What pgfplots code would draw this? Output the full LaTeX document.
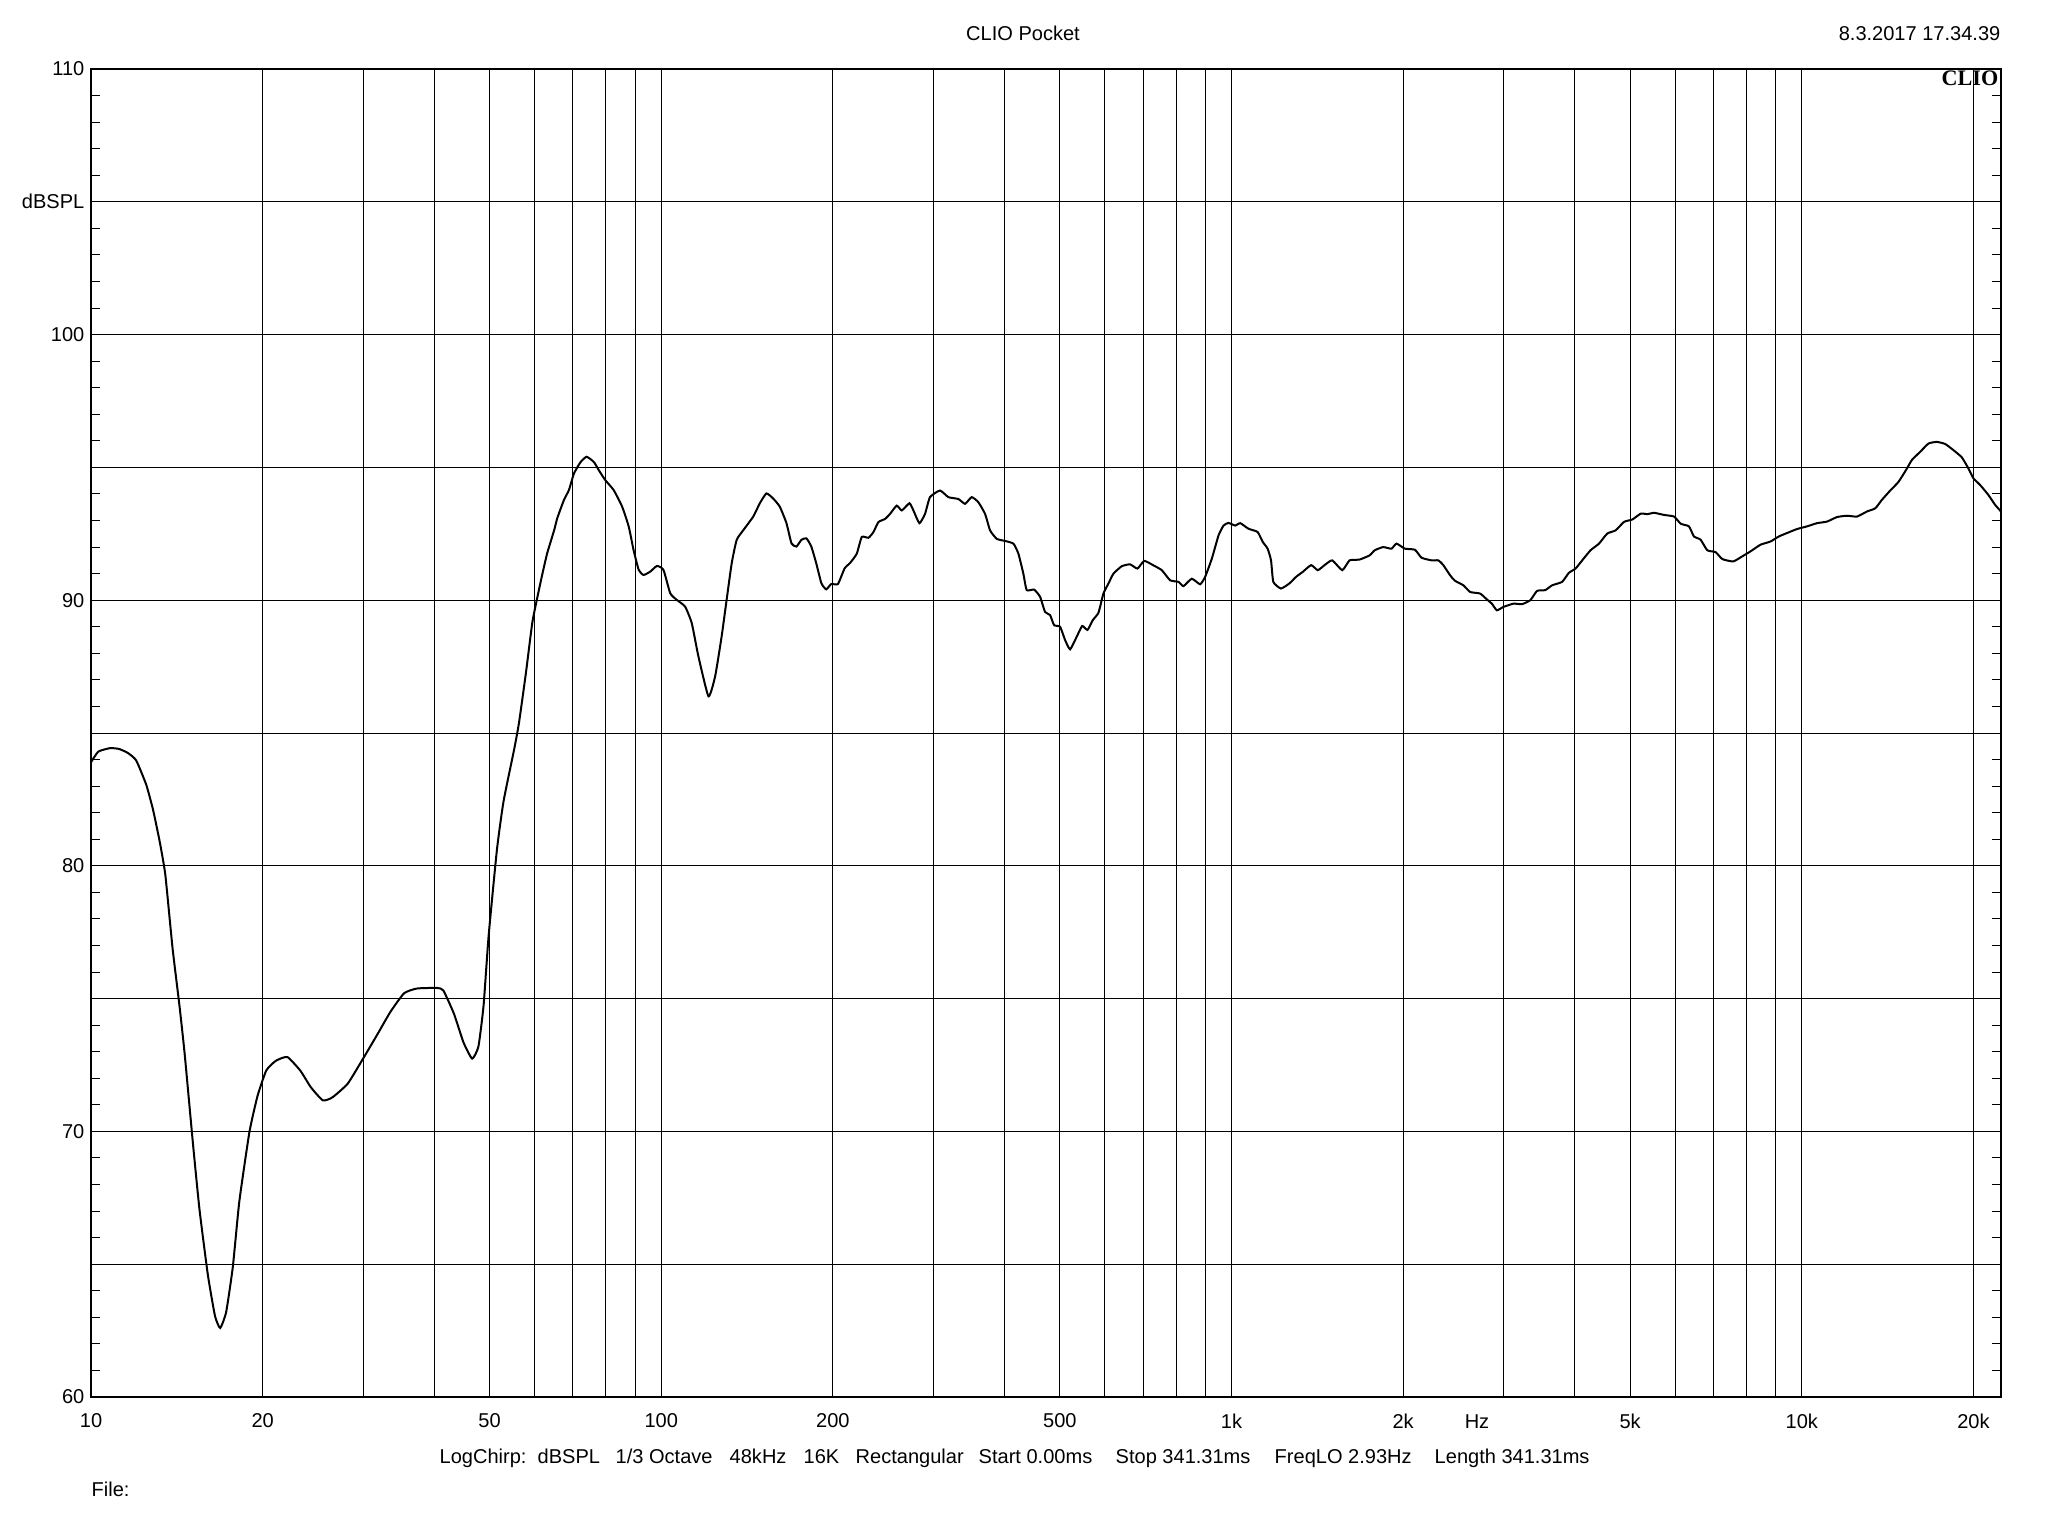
\documentclass[border=0pt]{standalone}
\usepackage{fontspec}
\setmainfont{Liberation Sans}
\newfontfamily\logofont{Liberation Serif}
\usepackage{pgfplots}
\pgfplotsset{compat=1.18}
\pgfplotstableread{
f db
10 83.9
10.3 84.3
10.8 84.43
11.2 84.4
11.6 84.25
12.0 83.97
12.5 83.05
12.85 82.1
13.2 80.9
13.5 79.66
13.9 76.9
14.3 74.7
14.6 72.9
15.1 69.5
15.5 67.05
16.03 64.6
16.5 63.05
16.85 62.6
17.26 63.2
17.73 64.9
18.2 67.35
18.96 69.97
19.6 71.35
20.3 72.3
21.1 72.66
22.1 72.8
23.3 72.28
24.3 71.66
25.5 71.17
26.5 71.28
28.2 71.8
30 72.74
31.8 73.66
33.5 74.5
35.4 75.2
37.3 75.38
40.5 75.4
41.5 75.3
43.3 74.43
45.0 73.35
46.6 72.74
47.8 73.2
48.8 74.74
49.8 77.35
51.5 80.6
52.9 82.43
55.2 84.37
56.3 85.38
57.9 87.26
59.4 89.14
60.5 90.01
61.9 91.0
63.1 91.77
64.9 92.64
65.7 93.08
67.5 93.77
68.9 94.15
70.3 94.77
72.2 95.2
74.0 95.4
76.2 95.2
77.7 94.9
79.8 94.52
82.5 94.15
85.4 93.52
87.7 92.77
89.4 91.9
91.3 91.14
93.1 90.95
95.7 91.08
98.3 91.29
100.9 91.14
103.7 90.26
106.5 90.01
110.1 89.76
113.1 89.14
116.2 87.88
121.0 86.38
124.3 87.13
127.6 88.63
130.2 90.01
132.9 91.39
135.6 92.27
139.3 92.64
145.0 93.15
148.9 93.65
152.9 94.02
157.1 93.83
161.4 93.52
165.8 92.9
169.2 92.14
172.6 92.02
176.1 92.27
179.7 92.33
183.3 92.02
187.0 91.39
190.9 90.64
194.7 90.41
198.7 90.61
204.1 90.61
209.7 91.2
214.3 91.4
220.2 91.75
224.7 92.38
230.8 92.35
235.5 92.56
240.3 92.94
246.9 93.06
251.9 93.25
258.8 93.56
264.1 93.38
272.4 93.65
276.8 93.38
283.6 92.9
290.1 93.25
296.0 93.88
308.2 94.13
318.8 93.88
331.9 93.81
341.0 93.63
350.3 93.88
359.8 93.69
369.7 93.25
377.3 92.63
387.6 92.31
400.8 92.23
414.5 92.13
423.0 91.75
431.5 91.0
437.4 90.38
450.6 90.4
461.6 90.13
471.0 89.56
480.7 89.44
488.5 89.06
500.5 89.0
510.7 88.5
521.2 88.15
535.4 88.63
547.2 89.03
559.0 88.88
571.2 89.25
584.4 89.53
596.3 90.25
608.5 90.63
620.9 91.0
642.1 91.28
664.1 91.35
684.1 91.19
702.9 91.48
729.9 91.31
754.8 91.13
780.6 90.75
807.2 90.69
823.7 90.53
851.8 90.81
881.0 90.6
899.0 90.88
923.5 91.56
949.0 92.44
968.3 92.81
987.9 92.91
1015 92.81
1036 92.9
1071 92.69
1111 92.57
1134 92.2
1157 91.94
1173 91.5
1184 90.69
1221 90.44
1263 90.63
1298 90.88
1334 91.07
1379 91.32
1417 91.13
1456 91.32
1502 91.5
1564 91.13
1611 91.5
1677 91.53
1747 91.69
1783 91.88
1845 92.0
1908 91.94
1947 92.13
2014 91.94
2097 91.9
2154 91.6
2244 91.5
2305 91.5
2352 91.32
2417 90.94
2466 90.73
2551 90.56
2621 90.31
2729 90.25
2804 90.03
2861 89.87
2920 89.62
3000 89.75
3124 89.87
3231 89.85
3342 90.0
3434 90.35
3551 90.38
3649 90.56
3800 90.69
3905 91.03
4011 91.19
4121 91.5
4262 91.88
4410 92.13
4560 92.51
4717 92.63
4880 92.95
5047 93.04
5220 93.26
5362 93.24
5509 93.29
5735 93.21
5970 93.15
6134 92.88
6341 92.78
6471 92.4
6646 92.28
6829 91.88
7063 91.81
7255 91.55
7583 91.46
7864 91.65
8133 91.84
8467 92.09
8816 92.21
9116 92.4
9426 92.53
9813 92.68
10216 92.78
10636 92.9
11073 92.96
11529 93.13
12002 93.18
12499 93.15
13013 93.34
13458 93.46
13824 93.78
14296 94.13
14786 94.46
15292 94.96
15603 95.28
16137 95.59
16689 95.9
17259 95.96
17850 95.88
18450 95.65
19083 95.38
19606 94.96
20000 94.59
20545 94.34
21250 93.96
21830 93.59
22360 93.34
}\curve
\begin{document}
\begin{tikzpicture}[x=1mm,y=1mm]
\fontsize{5.7pt}{6.8pt}\selectfont
\useasboundingbox (0,0) rectangle (204.8,153.6);
\begin{axis}[
  at={(9.1mm,13.9mm)}, anchor=south west,
  scale only axis, width=191mm, height=132.8mm,
  xmode=log, xmin=10, xmax=22360, ymin=60, ymax=110,
  xtick={10,20,50,100,200,500,1000,2000,5000,10000,20000},
  xticklabels={10,20,50,100,200,500,1k,2k,5k,10k,20k},
  minor xtick={30,40,60,70,80,90,300,400,600,700,800,900,3000,4000,6000,7000,8000,9000},
  xmajorgrids, xminorgrids,
  ytick={60,65,...,110},
  yticklabels={60,,70,,80,,90,,100,dBSPL,110},
  minor ytick={61,62,...,109},
  ymajorgrids,
  major grid style={black, line width=0.1mm},
  minor grid style={black, line width=0.1mm},
  x tick style={draw=none},
  y tick style={black, line width=0.1mm},
  tick align=inside,
  major tick length=0.9mm, minor tick length=0.9mm,
  axis line style={black, line width=0.2mm},
  tick label style={font=\fontsize{5.7pt}{6.8pt}\selectfont},
  xticklabel style={anchor=center, inner sep=0pt, yshift=-2.4mm},
  yticklabel style={anchor=east, inner sep=0pt, xshift=-0.6mm},
]
\addplot[black, line width=0.2mm, smooth, tension=0.3] table[x=f, y=db] {\curve};
\end{axis}
\node[anchor=base] at (102.3,149.5) {CLIO Pocket};
\node[anchor=base east, inner sep=0pt] at (200.1,149.5) {8.3.2017 17.34.39};
\node[anchor=base east, inner sep=0pt] at (199.9,145.0) {\logofont\fontsize{6.3pt}{7pt}\selectfont\bfseries CLIO};
\node[anchor=base, inner sep=0pt] at (147.7,10.8) {Hz};
\node[anchor=base west, inner sep=0pt] at (43.9,7.3) {LogChirp:};
\node[anchor=base west, inner sep=0pt] at (53.7,7.3) {dBSPL};
\node[anchor=base west, inner sep=0pt] at (61.5,7.3) {1/3 Octave};
\node[anchor=base west, inner sep=0pt] at (72.9,7.3) {48kHz};
\node[anchor=base west, inner sep=0pt] at (80.3,7.3) {16K};
\node[anchor=base west, inner sep=0pt] at (85.5,7.3) {Rectangular};
\node[anchor=base west, inner sep=0pt] at (97.8,7.3) {Start 0.00ms};
\node[anchor=base west, inner sep=0pt] at (111.5,7.3) {Stop 341.31ms};
\node[anchor=base west, inner sep=0pt] at (127.4,7.3) {FreqLO 2.93Hz};
\node[anchor=base west, inner sep=0pt] at (143.4,7.3) {Length 341.31ms};
\node[anchor=base west, inner sep=0pt] at (9.1,4.0) {File:};
\end{tikzpicture}
\end{document}
